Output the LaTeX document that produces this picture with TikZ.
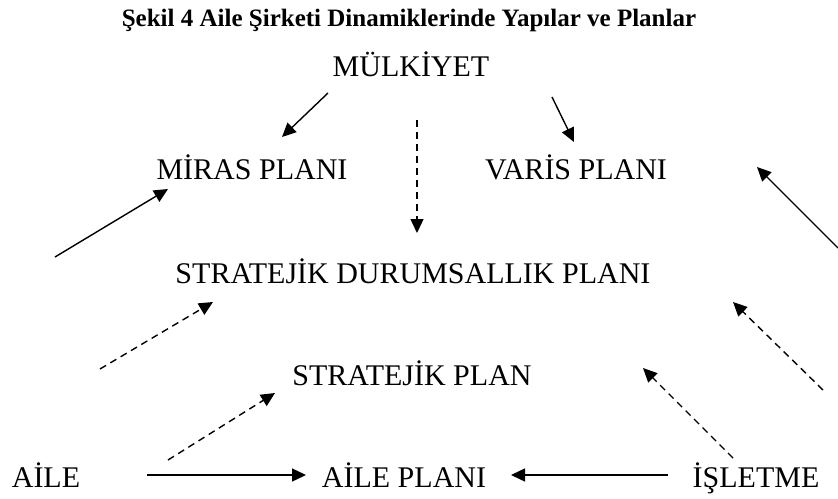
\documentclass[tikz,border=0pt]{standalone}
\usepackage{fontspec}
\setmainfont{Liberation Serif}
\usetikzlibrary{arrows.meta}
\tikzset{
  lbl/.style={anchor=base,inner sep=0pt,font=\fontsize{30}{35}\selectfont},
  ttl/.style={anchor=base,inner sep=0pt,font=\fontsize{25}{30}\selectfont\bfseries},
  arr/.style={line width=1.4pt,-{Triangle[length=14pt,width=13pt]}},
  darr/.style={arr,dash pattern=on 7pt off 5pt},
}
\begin{document}
\begin{tikzpicture}[x=1pt,y=-1pt]
      \useasboundingbox (0,0) rectangle (838,498);
      \node[ttl] (T) at (409,26){Şekil 4 Aile Şirketi Dinamiklerinde Yapılar ve Planlar};

      \node[lbl] (M) at (411,76){MÜLKİYET};
      \node[lbl] (MP) at (252,179){MİRAS PLANI};
      \node[lbl] (VP) at (576,179){VARİS PLANI};
      \node[lbl] (SD) at (413,283){STRATEJİK DURUMSALLIK PLANI};
      \node[lbl] (SP) at (412,385){STRATEJİK PLAN};
      \node[lbl] (A) at (46,487){AİLE};
      \node[lbl] (AP) at (404,487){AİLE PLANI};
      \node[lbl] (I) at (756,487){İŞLETME};

      % arrow ends
      \coordinate (M1) at (328,93);  \coordinate (M2) at (282,137);
      \coordinate (M3) at (417,120); \coordinate (M4) at (417,233);
      \coordinate (M5) at (552,97);  \coordinate (M6) at (574,142);
      \coordinate (L1) at (55,257);  \coordinate (L2) at (168,189);
      \coordinate (L3) at (100,369); \coordinate (L4) at (213,302);
      \coordinate (L5) at (168,460); \coordinate (L6) at (275,393);
      \coordinate (H1) at (147,475); \coordinate (H2) at (306,475);
      \coordinate (H3) at (668,475); \coordinate (H4) at (511,475);
      \coordinate (R1) at (733,458); \coordinate (R2) at (643,368);
      \coordinate (R3) at (823,390); \coordinate (R4) at (733,302);
      \coordinate (R5) at (838,248); \coordinate (R6) at (757,167);

      \draw (M1) edge[arr] (M2);
      \draw (M3) edge[darr] (M4);
      \draw (M5) edge[arr] (M6);
      \draw (L1) edge[arr] (L2);
      \draw (L3) edge[darr] (L4);
      \draw (L5) edge[darr] (L6);
      \draw (H1) edge[arr] (H2);
      \draw (H3) edge[arr] (H4);
      \draw (R1) edge[darr] (R2);
      \draw (R3) edge[darr] (R4);
      \draw (R5) edge[arr] (R6);
    \end{tikzpicture}
\end{document}
